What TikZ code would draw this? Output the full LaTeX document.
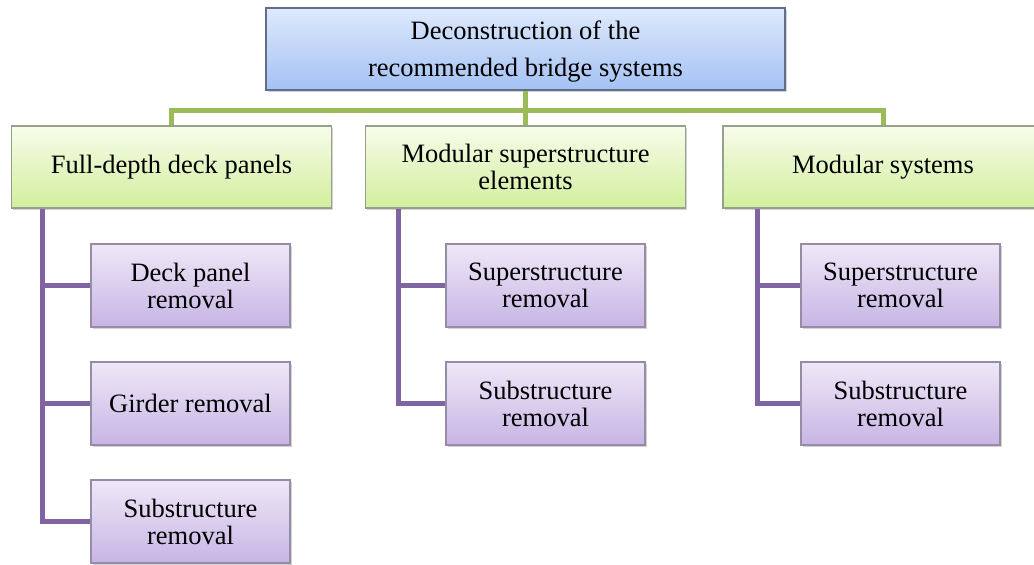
\documentclass[tikz,border=0pt]{standalone}
\usepackage{fontspec}
\setmainfont{Liberation Serif}
\usetikzlibrary{shadows,calc}

\definecolor{topA}{RGB}{222,233,252}
\definecolor{topB}{RGB}{164,194,244}
\definecolor{topE}{RGB}{96,110,140}
\definecolor{grnA}{RGB}{247,252,234}
\definecolor{grnB}{RGB}{210,239,158}
\definecolor{grnE}{RGB}{150,160,140}
\definecolor{purA}{RGB}{238,232,247}
\definecolor{purB}{RGB}{199,181,229}
\definecolor{purE}{RGB}{150,140,165}
\definecolor{grnLine}{RGB}{155,187,89}
\definecolor{purLine}{RGB}{128,100,162}

\tikzset{
  box/.style={rectangle, inner sep=0pt, align=center, line width=1.1pt,
    drop shadow={shadow xshift=1.5pt, shadow yshift=-2pt, opacity=0.35},
    font=\fontsize{26.5}{27}\selectfont},
  rootbox/.style={box, draw=topE, top color=topA, bottom color=topB,
    minimum width=519pt, minimum height=82pt},
  roottext/.style={inner sep=0pt, align=center, font=\fontsize{26.5}{37}\selectfont},
  groupbox/.style={box, draw=grnE, top color=grnA, bottom color=grnB,
    minimum width=320pt, minimum height=82pt},
  taskbox/.style={box, draw=purE, top color=purA, bottom color=purB,
    minimum width=199pt, minimum height=83pt},
  gline/.style={draw=grnLine, line width=5pt},
  pline/.style={draw=purLine, line width=5pt},
}

\begin{document}
\begin{tikzpicture}[x=1pt, y=-1pt]
\useasboundingbox (0,0) rectangle (1034,565);

% root
\node[rootbox] (root) at (525.5,49) {};
\node[roottext, yshift=-3pt] (rootlabel) at (root.center) {Deconstruction of the\\recommended bridge systems};

% second level
\node[groupbox] (A) at (171.5,167) {Full-depth deck panels};
\node[groupbox] (B) at (525.5,167) {Modular superstructure\\elements};
\node[groupbox] (C) at (883,167) {Modular systems};

% third level
\node[taskbox] (A1) at (190.5,285.5) {Deck panel\\removal};
\node[taskbox] (A2) at (190.5,403.5) {Girder removal};
\node[taskbox] (A3) at (190.5,521.5) {Substructure\\removal};
\node[taskbox] (B1) at (545.5,285.5) {Superstructure\\removal};
\node[taskbox] (B2) at (545.5,403.5) {Substructure\\removal};
\node[taskbox] (C1) at (900.5,285.5) {Superstructure\\removal};
\node[taskbox] (C2) at (900.5,403.5) {Substructure\\removal};

% green bus from the root to the groups
\coordinate (bus) at (525.5,110);
\draw[gline] (root.south) -- (B.north);
\draw[gline, line join=miter] (A.north) -- (A.north |- bus) -- (C.north |- bus) -- (C.north);

% purple spines from each group to its tasks
\coordinate (pa) at ($(A.south west)+(32,0)$);
\coordinate (pb) at ($(B.south west)+(34,0)$);
\coordinate (pc) at ($(C.south west)+(35,0)$);

\draw[pline, line join=miter] (pa) |- (A3.west);
\draw[pline] (A1.west -| pa) -- (A1.west);
\draw[pline] (A2.west -| pa) -- (A2.west);

\draw[pline, line join=miter] (pb) |- (B2.west);
\draw[pline] (B1.west -| pb) -- (B1.west);

\draw[pline, line join=miter] (pc) |- (C2.west);
\draw[pline] (C1.west -| pc) -- (C1.west);
\end{tikzpicture}
\end{document}
